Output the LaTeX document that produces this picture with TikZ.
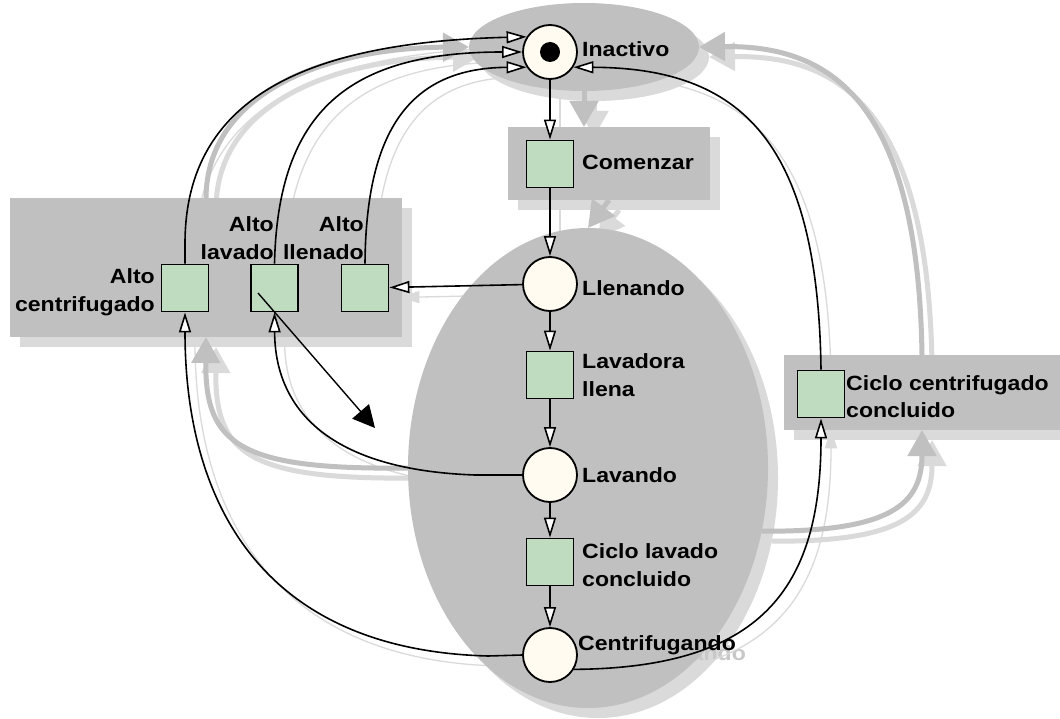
\documentclass[tikz,border=0pt]{standalone}
\usepackage{fontspec}
\newfontfamily\lblfont{Liberation Sans}[FakeStretch=1.12]
\usetikzlibrary{arrows.meta,shapes.geometric}
\definecolor{greyD}{RGB}{192,192,192}
\definecolor{greyL}{RGB}{218,218,218}
\definecolor{ghost}{RGB}{200,200,200}
\definecolor{placefill}{RGB}{255,251,240}
\definecolor{transfill}{RGB}{192,220,192}
\pgfdeclarelayer{shade}
\pgfdeclarelayer{regions}
\pgfsetlayers{shade,regions,main}

\tikzset{
  pnplace/.style={circle, draw=black, line width=1.8, fill=placefill, minimum size=54, inner sep=0},
  pntoken/.style={circle, fill=black, minimum size=20, inner sep=0},
  pntrans/.style={rectangle, draw=black, line width=1.8, fill=transfill, minimum width=47, minimum height=47, inner sep=0},
  lbl/.style={font=\lblfont\bfseries\fontsize{20.6}{27}\selectfont, inner sep=0, anchor=base west},
  lblr/.style={lbl, anchor=base east},
  pnarc/.style={draw=black, line width=1.6, -{Triangle[width=12pt,length=20pt,fill=white]}},
  pnshade/.style={draw=greyL, line width=1.3, -{Triangle[width=12pt,length=20pt,fill=greyL]}},
  stregion/.style={fill=greyD, draw=none, inner sep=0, outer sep=0},
  stregionshade/.style={fill=greyL, draw=none, inner sep=0, outer sep=0},
  stflow/.style={draw=greyD, line width=5, -{Triangle[width=28pt,length=26pt]}},
  stflowshade/.style={draw=greyL, line width=5, -{Triangle[width=28pt,length=26pt]}},
}

% State regions and the transitions between them
% #1 name prefix, #2 region style, #3 flow style
\newcommand\regionscene[3]{%
  \node[#2, ellipse, minimum width=230, minimum height=88] (#1idle) at (584,47) {};
  \node[#2, minimum width=202, minimum height=73] (#1start) at (609,163.5) {};
  \node[#2, ellipse, minimum width=360, minimum height=480] (#1run) at (588,468) {};
  \node[#2, minimum width=392, minimum height=139] (#1stop) at (206,267.5) {};
  \node[#2, minimum width=276, minimum height=75] (#1spin) at (922,392.5) {};
  \draw[#3] (#1idle.south) -- (#1idle.south |- #1start.north);
  \draw[#3] (#1start.south) -- (#1run.north);
  \draw[#3] (#1run.west) .. controls (240,470) and (205,445) .. (#1stop.south);
  \draw[#3] (#1run.-20) .. controls (890,532) and (922,505) .. (#1spin.south);
  \draw[#3] (#1stop.north) .. controls (207,90) and (330,48) .. (#1idle.west);
  \draw[#3] (#1spin.north) .. controls (918,100) and (830,45) .. (#1idle.east);
}

% Arcs of the Petri net
\newcommand\petriarcs[1]{%
  \draw[#1] (pI) -- (tC);
  \draw[#1] (tC) -- (pL);
  \draw[#1] (pL) -- (tLL);
  \draw[#1] (tLL) -- (pLav);
  \draw[#1] (pLav) -- (tCLC);
  \draw[#1] (tCLC) -- (pCen);
  \draw[#1] (pL) -- (tAll);
  \draw[#1] (pLav.west) -- ++(-47,0) .. controls (330,470) and (275,410) .. (tAL.south);
  \draw[#1] (pCen.west) -- ++(-34,1) .. controls (260,650) and (185,500) .. (tAC.south);
  \draw[#1] (pCen.-31) .. controls (760,668) and (821,590) .. (tCCC.south);
  \draw[#1] (tCCC.north) .. controls (818,140) and (740,68) .. (pI.-33);
  \draw[#1] (tAC.north) -- ++(0,-20) .. controls (185,90) and (320,42) .. (pI.147);
  \draw[#1] (tAL.north) .. controls (278,110) and (350,52) .. (pI.west);
  \draw[#1] (tAll.north) .. controls (366,130) and (410,68) .. (pI.213);
}

\begin{document}
\begin{tikzpicture}[x=1pt,y=-1pt]
\useasboundingbox (0,0) rectangle (1060,719);

% places and transitions
\node[pnplace] (pI) at (550,52) {};
\node[pntoken] (tk) at (550,52) {};
\node[pntrans] (tC) at (550,164) {};
\node[pnplace] (pL) at (550,284) {};
\node[pntrans] (tLL) at (550,375) {};
\node[pnplace] (pLav) at (550,475) {};
\node[pntrans] (tCLC) at (550,562) {};
\node[pnplace] (pCen) at (550,655) {};
\node[pntrans] (tAC) at (185,288) {};
\node[pntrans] (tAL) at (274.5,288) {};
\node[pntrans] (tAll) at (365,288) {};
\node[pntrans] (tCCC) at (821,394) {};

% labels
\node[lbl] (nIdle) at (582,57) {Inactivo};
\node[lbl] (nStart) at (582,170) {Comenzar};
\node[lbl] (nFill) at (582,296) {Llenando};
\node[lbl] (nFull1) at (582,368) {Lavadora};
\node[lbl] (nFull2) at (582,396) {llena};
\node[lbl] (nWash) at (582,482) {Lavando};
\node[lbl] (nWDone1) at (582,558) {Ciclo lavado};
\node[lbl] (nWDone2) at (582,586) {concluido};
\node[lbl] (nSpin) at (578,650) {Centrifugando};
\node[lbl] (nSDone1) at (846,390) {Ciclo centrifugado};
\node[lbl] (nSDone2) at (846,417) {concluido};
\node[lblr] (nStopS1) at (155,284) {Alto};
\node[lblr] (nStopS2) at (155,312) {centrifugado};
\node[lblr] (nStopW1) at (274,232) {Alto};
\node[lblr] (nStopW2) at (274,260) {lavado};
\node[lblr] (nStopF1) at (364,232) {Alto};
\node[lblr] (nStopF2) at (364,260) {llenado};

\petriarcs{pnarc}

% pointer line
\coordinate (cs) at (258,293);
\coordinate (ce) at (375,428);
\draw[line width=1.4, -{Triangle[width=22pt,length=22pt]}] (cs) -- (ce);

% drop shadows
\begin{pgfonlayer}{shade}
  \fill[white] (-5,-5) rectangle (1065,724);
  \begin{scope}[shift={(10,10)}]
    \regionscene{h}{stregionshade}{stflowshade}
    \node[lbl, text=ghost] (nSpinShade) at (578,650) {Centrifugando};
  \end{scope}
  \begin{scope}[transform canvas={shift={(10pt,-10pt)}}]
    \petriarcs{pnshade}
  \end{scope}
\end{pgfonlayer}

% state regions
\begin{pgfonlayer}{regions}
  \regionscene{g}{stregion}{stflow}
\end{pgfonlayer}
\end{tikzpicture}
\end{document}
